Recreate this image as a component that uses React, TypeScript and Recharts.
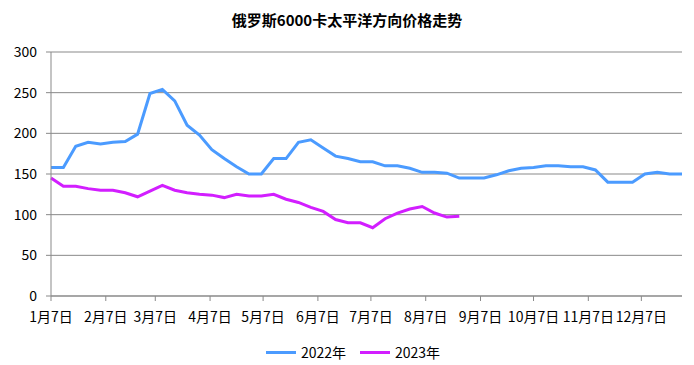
import React from 'react';
import { LineChart, Line, XAxis, YAxis, CartesianGrid, Legend } from 'recharts';

// weekly prices, first point on 1月7日
const price2022 = [
  158, 158, 184, 189, 187, 189, 190, 199, 249, 254, 240, 210, 198, 180, 169, 159,
  150, 150, 169, 169, 189, 192, 182, 172, 169, 165, 165, 160, 160, 157, 152, 152,
  151, 145, 145, 145, 149, 154, 157, 158, 160, 160, 159, 159, 155, 140, 140, 140,
  150, 152, 150, 150,
];
const price2023 = [
  145, 135, 135, 132, 130, 130, 127, 122, 129, 136, 130, 127, 125, 124, 121, 125,
  123, 123, 125, 119, 115, 109, 104, 94, 90, 90, 84, 95, 102, 107, 110, 102,
  97, 98,
];

// days after 1月7日 for each month tick
const monthTicks = [0, 31, 59, 90, 120, 151, 181, 212, 243, 273, 304, 334];
const monthLabels = ['1月7日', '2月7日', '3月7日', '4月7日', '5月7日', '6月7日', '7月7日', '8月7日', '9月7日', '10月7日', '11月7日', '12月7日'];
const yTicks = [0, 50, 100, 150, 200, 250, 300];

const data = price2022.map((v, i) => ({
  day: i * 7,
  y2022: v,
  y2023: i < price2023.length ? price2023[i] : null,
}));

const font = '"Microsoft YaHei", "Noto Sans CJK SC", sans-serif';
const gridColor = '#898989';

const renderLegend = (props: any) => {
  const { payload } = props;
  return (
    <div style={{ display: 'flex', justifyContent: 'center', paddingLeft: 24, fontSize: 14, fontFamily: font, color: '#000' }}>
      {(payload || []).map((entry: any, idx: number) => (
        <span key={entry.value} style={{ display: 'inline-flex', alignItems: 'center', marginLeft: idx ? 14 : 0 }}>
          <span style={{ display: 'inline-block', width: 30, height: 3, background: entry.color, marginRight: 5 }}></span>
          {entry.value}
        </span>
      ))}
    </div>
  );
};

const App: React.FC = () => {
  return (
    <div style={{ position: 'absolute', left: 0, top: 0, width: 694, height: 365, background: '#fff', fontFamily: font }}>
      <div
        style={{
          position: 'absolute',
          top: 9,
          left: 0,
          width: 694,
          textAlign: 'center',
          fontSize: 15,
          fontWeight: 'bold',
          color: '#000',
        }}
      >
        俄罗斯6000卡太平洋方向价格走势
      </div>
      <LineChart width={694} height={365} data={data} margin={{ top: 52, right: 12, bottom: 0, left: 0 }}>
        <CartesianGrid vertical={false} stroke={gridColor} strokeWidth={1} />
        <XAxis
          dataKey="day"
          type="number"
          domain={[0, 357]}
          ticks={monthTicks}
          tickFormatter={(v: number) => monthLabels[monthTicks.indexOf(v)]}
          interval={0}
          height={30}
          stroke={gridColor}
          tickSize={5}
          tick={{ fill: '#000', fontSize: 14, fontFamily: font }}
          tickMargin={11}
        />
        <YAxis
          domain={[0, 300]}
          ticks={yTicks}
          width={51}
          stroke={gridColor}
          tickSize={5}
          tickMargin={9}
          tick={{ fill: '#000', fontSize: 14, fontFamily: font }}
        />
        <Legend
          verticalAlign="bottom"
          height={39}
          content={renderLegend}
          wrapperStyle={{ top: 342, bottom: 'auto' }}
        />
        <Line
          type="linear"
          dataKey="y2022"
          name="2022年"
          stroke="#4b9bff"
          strokeWidth={3}
          dot={false}
          isAnimationActive={false}
        />
        <Line
          type="linear"
          dataKey="y2023"
          name="2023年"
          stroke="#d21eff"
          strokeWidth={3}
          dot={false}
          connectNulls={false}
          isAnimationActive={false}
        />
      </LineChart>
    </div>
  );
};

export default App;
